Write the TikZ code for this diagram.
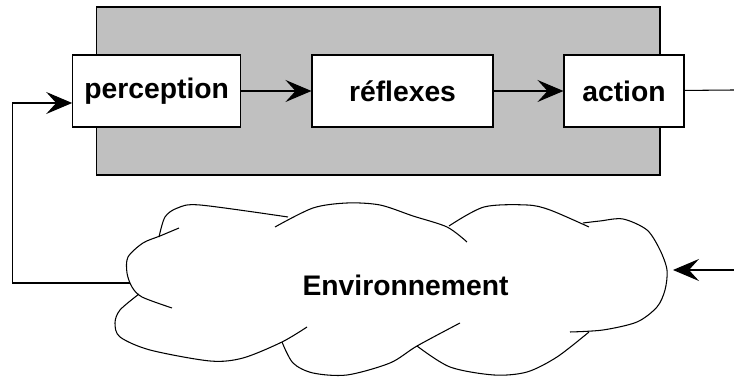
\documentclass[tikz,border=0pt]{standalone}
\usepackage{fontspec}
\setmainfont{Liberation Sans}
\usepackage{tikz}
\usetikzlibrary{arrows.meta}
\definecolor{agentgray}{RGB}{192,192,192}
\tikzstyle{boite}=[draw, fill=white, minimum height=1.44cm, inner sep=0pt, font={\fontsize{16.1}{19}\selectfont\bfseries}]
\tikzstyle{fleche}=[-{Stealth[length=0.52cm,width=0.44cm,inset=0.2cm]}]

\begin{document}
\begin{tikzpicture}[line width=0.6pt]
\useasboundingbox (0,0) rectangle (14.68,7.54);
\draw[fill=agentgray] (1.93,4.04) rectangle (13.2,7.4);
\node[boite, minimum width=3.36cm] (percep) at (3.134,5.72) {perception};
\node[boite, minimum width=3.62cm] (reflex) at (8.05,5.72) {réflexes};
\node[boite, minimum width=2.4cm] (action) at (12.48,5.72) {action};
% nuage
\draw plot[smooth] coordinates {(3.18,2.80) (3.3,3.2) (3.55,3.38) (4.0,3.44) (5.76,3.2)};
\draw plot[smooth] coordinates {(3.58,2.98) (3.2,2.82) (2.86,2.68) (2.56,2.40) (2.54,2.08) (2.64,1.80) (2.84,1.60) (3.44,1.38)};
\draw plot[smooth] coordinates {(2.78,1.66) (2.4,1.34) (2.3,1.08) (2.4,0.80) (3.0,0.54) (4.2,0.32) (4.86,0.38) (5.64,0.70) (6.14,1.0)};
\draw plot[smooth] coordinates {(5.64,0.70) (5.86,0.28) (6.26,0.08) (6.94,0.04) (7.8,0.28) (8.34,0.62) (9.2,1.08)};
\draw plot[smooth] coordinates {(8.34,0.62) (9.0,0.2) (9.88,0.04) (10.54,0.1) (11.14,0.4) (11.78,0.9)};
\draw plot[smooth] coordinates {(11.66,3.08) (12.0,3.12) (12.46,3.16) (12.94,2.94) (13.2,2.54) (13.34,2.14) (13.3,1.74) (13.14,1.40) (12.74,1.10) (12.06,0.94) (11.4,0.90)};
\draw plot[smooth] coordinates {(11.78,3.0) (11.0,3.34) (10.54,3.44) (9.68,3.40) (8.98,3.02)};
\draw plot[smooth] coordinates {(9.34,2.70) (8.94,3.0) (8.26,3.22) (7.6,3.44) (6.94,3.48) (6.26,3.38) (5.5,3.0)};
\node[font={\fontsize{16.1}{19}\selectfont\bfseries}] (env) at (8.11,1.84) {Environnement};
\coordinate (envleft) at (2.6,1.88);
\coordinate (coin) at (0.254,1.88);
\coordinate (envright) at (13.46,2.14);
\coordinate (entree) at (14.68,2.14);
\coordinate (sortie) at (14.68,5.74);
\draw[fleche] (percep) -- (reflex);
\draw[fleche] (reflex) -- (action);
\draw (action) -- (sortie);
\draw[fleche] (entree) -- (envright);
\draw[fleche] (envleft) -- (coin) |- ([yshift=-0.24cm]percep.west);
\end{tikzpicture}
\end{document}
